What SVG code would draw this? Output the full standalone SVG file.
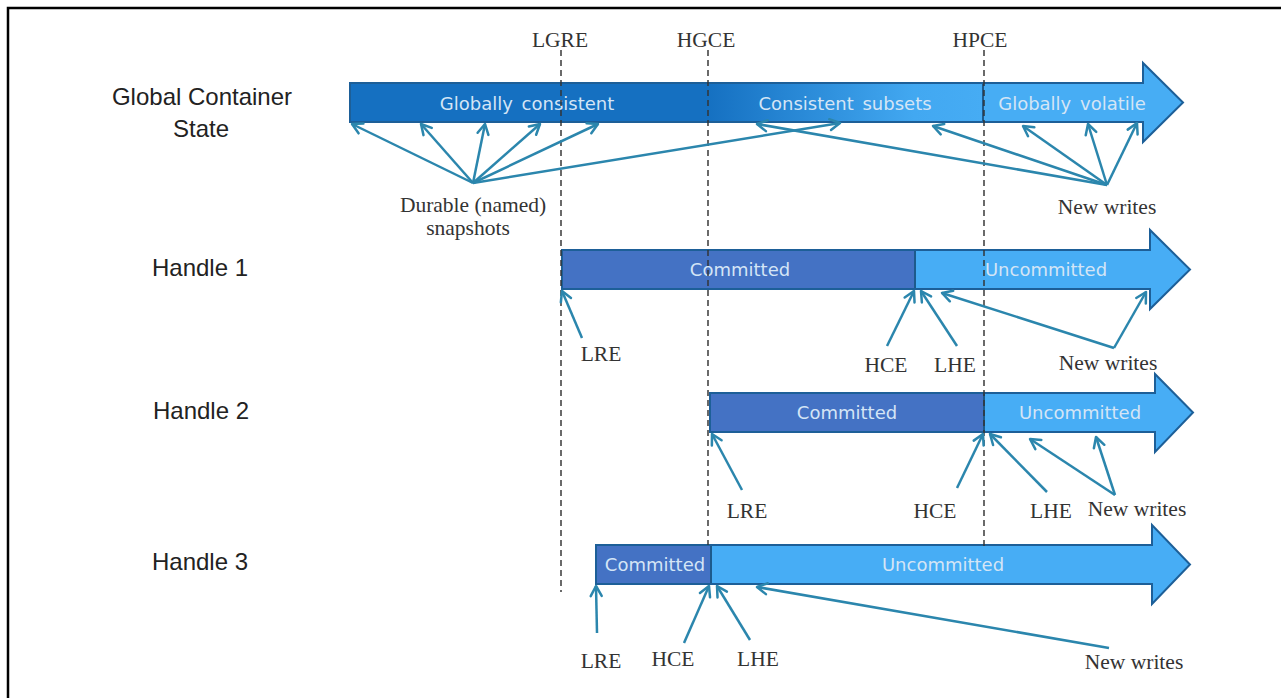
<svg xmlns="http://www.w3.org/2000/svg" width="1281" height="698" viewBox="0 0 1281 698">
<style>
.lbl{font-family:"Liberation Sans",Arial,sans-serif;font-size:24px;fill:#222;text-anchor:middle}
.ser{font-family:"Liberation Serif","Times New Roman",serif;font-size:21.5px;fill:#333;text-anchor:middle}
.bar{font-family:"DejaVu Sans",Verdana,sans-serif;font-size:18px;fill:#d4e5f6;text-anchor:middle;word-spacing:3px}
.outline{fill:none;stroke:#1d5f98;stroke-width:2}
.div{stroke:#1d5a8c;stroke-width:2}
.dash{stroke:#333;stroke-width:1.7;stroke-dasharray:6,4;opacity:0.85}
.con line{stroke:#2b86ad;stroke-width:2.5;marker-end:url(#ah)}
</style>
<defs>
<marker id="ah" markerUnits="userSpaceOnUse" viewBox="-13 -8 16 16" markerWidth="16" markerHeight="16" refX="0" refY="0" orient="auto">
<path d="M-10,-5.5 L0,0 L-10,5.5" fill="none" stroke="#2b86ad" stroke-width="2.5" stroke-linecap="round" stroke-linejoin="round"/>
</marker>
<linearGradient id="gs" x1="707" y1="0" x2="983" y2="0" gradientUnits="userSpaceOnUse">
<stop offset="0" stop-color="#1570c1"/>
<stop offset="0.75" stop-color="#42a8f1"/>
<stop offset="1" stop-color="#46acf4"/>
</linearGradient>
</defs>
<rect x="8" y="8" width="1300" height="700" fill="#fff" stroke="#000" stroke-width="2.5"/>

<g id="global-label"><text class="lbl" x="202" y="105">Global Container</text><text class="lbl" x="201" y="137">State</text></g>
<g id="handle1-label"><text class="lbl" x="200" y="276">Handle 1</text></g>
<g id="handle2-label"><text class="lbl" x="201" y="419">Handle 2</text></g>
<g id="handle3-label"><text class="lbl" x="200" y="570">Handle 3</text></g>

<g id="global-bar">
<polygon points="350,83 1143,83 1143,63 1183,102.5 1143,142 1143,122 350,122" fill="#47adf4"/>
<rect x="350" y="83" width="357" height="39" fill="#1570c1"/>
<rect x="707" y="83" width="276" height="39" fill="url(#gs)"/>
<line class="div" x1="983" y1="83" x2="983" y2="122"/>
<polygon class="outline" points="350,83 1143,83 1143,63 1183,102.5 1143,142 1143,122 350,122"/>
<text class="bar" x="527" y="110">Globally consistent</text>
<text class="bar" x="845" y="110">Consistent subsets</text>
<text class="bar" x="1072" y="110">Globally volatile</text>
</g>

<g id="handle1-bar">
<polygon points="562,250 1150,250 1150,230 1190,269.5 1150,309 1150,289 562,289" fill="#47adf5"/>
<rect x="562" y="250" width="353" height="39" fill="#4472c4"/>
<line class="div" x1="915" y1="250" x2="915" y2="289"/>
<polygon class="outline" points="562,250 1150,250 1150,230 1190,269.5 1150,309 1150,289 562,289"/>
<text class="bar" x="740" y="276">Committed</text>
<text class="bar" x="1046" y="276">Uncommitted</text>
</g>

<g id="handle2-bar">
<polygon points="710,393 1155,393 1155,374 1193,412.5 1155,452 1155,432 710,432" fill="#47adf5"/>
<rect x="710" y="393" width="274" height="39" fill="#4472c4"/>
<line class="div" x1="984" y1="393" x2="984" y2="432"/>
<polygon class="outline" points="710,393 1155,393 1155,374 1193,412.5 1155,452 1155,432 710,432"/>
<text class="bar" x="847" y="419">Committed</text>
<text class="bar" x="1080" y="419">Uncommitted</text>
</g>

<g id="handle3-bar">
<polygon points="596,545 1152,545 1152,525 1190,564.5 1152,604 1152,584 596,584" fill="#47adf5"/>
<rect x="596" y="545" width="115" height="39" fill="#4472c4"/>
<line class="div" x1="711" y1="545" x2="711" y2="584"/>
<polygon class="outline" points="596,545 1152,545 1152,525 1190,564.5 1152,604 1152,584 596,584"/>
<text class="bar" x="655" y="571">Committed</text>
<text class="bar" x="943" y="571">Uncommitted</text>
</g>

<g id="epoch-markers">
<line class="dash" x1="561" y1="50" x2="561" y2="592"/>
<line class="dash" x1="708" y1="50" x2="708" y2="545"/>
<line class="dash" x1="984" y1="50" x2="984" y2="547"/>
<text class="ser" x="560" y="47">LGRE</text>
<text class="ser" x="706" y="47">HGCE</text>
<text class="ser" x="980" y="47">HPCE</text>
</g>

<g id="global-annotations">
<text class="ser" x="473" y="212">Durable (named)</text>
<text class="ser" x="468" y="235">snapshots</text>
<text class="ser" x="1107" y="214">New writes</text>
</g>
<g id="handle1-annotations">
<text class="ser" x="601" y="361">LRE</text>
<text class="ser" x="886" y="372">HCE</text>
<text class="ser" x="955" y="372">LHE</text>
<text class="ser" x="1108" y="370">New writes</text>
</g>
<g id="handle2-annotations">
<text class="ser" x="747" y="518">LRE</text>
<text class="ser" x="935" y="518">HCE</text>
<text class="ser" x="1051" y="518">LHE</text>
<text class="ser" x="1137" y="516">New writes</text>
</g>
<g id="handle3-annotations">
<text class="ser" x="601" y="668">LRE</text>
<text class="ser" x="673" y="666">HCE</text>
<text class="ser" x="758" y="666">LHE</text>
<text class="ser" x="1134" y="669">New writes</text>
</g>

<g id="connectors" class="con">
<line x1="473" y1="183" x2="352" y2="124"/>
<line x1="473" y1="183" x2="421" y2="124"/>
<line x1="473" y1="183" x2="485" y2="124"/>
<line x1="473" y1="183" x2="540" y2="124"/>
<line x1="473" y1="183" x2="598" y2="124"/>
<line x1="473" y1="183" x2="840" y2="123"/>
<line x1="1107" y1="185" x2="757" y2="124"/>
<line x1="1107" y1="185" x2="933" y2="126"/>
<line x1="1107" y1="185" x2="1023" y2="126"/>
<line x1="1107" y1="185" x2="1088" y2="124"/>
<line x1="1107" y1="185" x2="1137" y2="123"/>
<line x1="582" y1="338" x2="562" y2="291"/>
<line x1="887" y1="346" x2="914" y2="291"/>
<line x1="957" y1="346" x2="921" y2="291"/>
<line x1="1114" y1="348" x2="942" y2="293"/>
<line x1="1114" y1="348" x2="1146" y2="292"/>
<line x1="742" y1="490" x2="712" y2="434"/>
<line x1="957" y1="488" x2="983" y2="434"/>
<line x1="1047" y1="492" x2="990" y2="434"/>
<line x1="1115" y1="495" x2="1030" y2="439"/>
<line x1="1115" y1="495" x2="1096" y2="437"/>
<line x1="597" y1="633" x2="596" y2="586"/>
<line x1="684" y1="643" x2="709" y2="586"/>
<line x1="750" y1="640" x2="717" y2="586"/>
<line x1="1109" y1="648" x2="757" y2="587"/>
</g>
</svg>
